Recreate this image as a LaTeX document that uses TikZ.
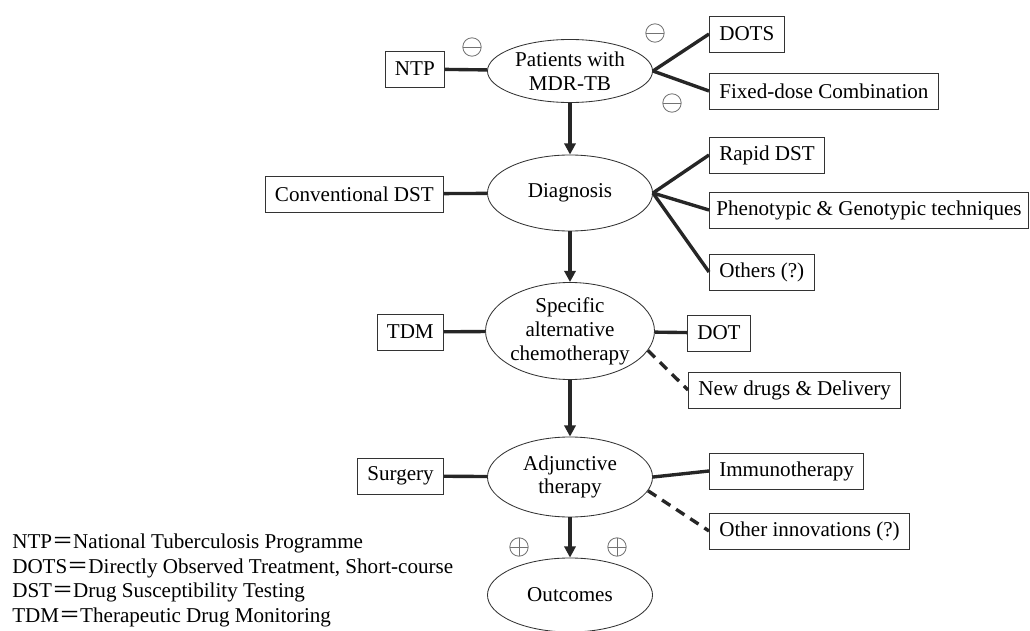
\documentclass[tikz,border=0pt]{standalone}
\usepackage{fontspec}
\setmainfont{Liberation Serif}
\newfontfamily\cjk{Noto Sans CJK JP}
\usetikzlibrary{shapes.geometric, arrows.meta, positioning}
\newcommand{\eqs}{{\cjk ＝}}

\tikzset{
  stage/.style={draw=black!80, ellipse, line width=0.6pt, inner sep=0pt, minimum width=4.125cm, align=center},
  factor/.style={draw=black!80, line width=0.6pt, minimum height=0.9cm, inner xsep=7pt},
  link/.style={line width=2.4pt, black!85},
  flow/.style={link, -{Triangle[length=8pt,width=8pt]}},
  maybe/.style={link, dash pattern=on 7pt off 5pt},
  sign/.style={circle, draw=black!55, line width=0.6pt, minimum size=0.46cm, inner sep=0pt},
  minus/.style={path picture={\draw[black!55, line width=0.6pt] (path picture bounding box.west) -- (path picture bounding box.east);}},
  plus/.style={path picture={\draw[black!55, line width=0.6pt] (path picture bounding box.west) -- (path picture bounding box.east) (path picture bounding box.north) -- (path picture bounding box.south);}}
}

\begin{document}
\begin{tikzpicture}[x=0.025cm, y=-0.025cm, font=\fontsize{15}{17}\selectfont]
\useasboundingbox (0,0) rectangle (1030,630);

\node[stage, minimum height=1.575cm] (patients) at (570,71) {Patients with\\MDR-TB};
\node[stage, minimum height=1.9cm] (diagnosis) at (570,193) {Diagnosis};
\node[stage, minimum height=2.425cm] (chemo) at (570,331) {Specific\\alternative\\chemotherapy};
\node[stage, minimum height=2cm] (adjunct) at (570,477) {Adjunctive\\therapy};
\node[stage, minimum height=1.85cm] (outcomes) at (570,595) {Outcomes};

\node[factor, anchor=east] (ntp) at (445,69) {NTP};
\node[factor, anchor=west] (dots) at (709,34) {DOTS};
\node[factor, anchor=west] (fdc) at (709,91) {Fixed-dose Combination};
\node[factor, anchor=east] (convdst) at (444,194) {Conventional DST};
\node[factor, anchor=west] (rapid) at (709,155) {Rapid DST};
\node[factor, anchor=west, inner xsep=5pt] (pheno) at (709,210) {Phenotypic \& Genotypic techniques};
\node[factor, anchor=west] (others) at (709,272) {Others (?)};
\node[factor, anchor=east] (tdm) at (444,332) {TDM};
\node[factor, anchor=west] (dot) at (687,333) {DOT};
\node[factor, anchor=west] (newdrugs) at (688,390) {New drugs \& Delivery};
\node[factor, anchor=east] (surgery) at (444,476) {Surgery};
\node[factor, anchor=west] (immuno) at (709,471) {Immunotherapy};
\node[factor, anchor=west] (innov) at (709,531) {Other innovations (?)};

% links and flow
\draw[link] (ntp) -- (patients);
\draw[link] (patients.east) -- (dots.west);
\draw[link] (patients.east) -- (fdc.west);
\draw[flow] (patients) -- (diagnosis);
\draw[link] (convdst) -- (diagnosis);
\draw[link] (diagnosis.east) -- (rapid.west);
\draw[link] (diagnosis.east) -- (pheno.west);
\draw[link] (diagnosis.east) -- (others.west);
\draw[flow] (diagnosis) -- (chemo);
\draw[link] (tdm) -- (chemo);
\draw[link] (chemo) -- (dot);
\draw[maybe] (chemo.-14) -- (newdrugs.west);
\draw[flow] (chemo) -- (adjunct);
\draw[link] (surgery) -- (adjunct);
\draw[link] (adjunct.east) -- (immuno.west);
\draw[maybe] (adjunct.-10) -- (innov.west);
\draw[flow] (adjunct) -- (outcomes);

\node[sign, minus] (ntp sign) at (472,47) {};
\node[sign, minus] (dots sign) at (655,33) {};
\node[sign, minus] (fdc sign) at (672,103) {};
\node[sign, plus] (left plus) at (519,547) {};
\node[sign, plus] (right plus) at (617,547) {};

% abbreviations
\node[anchor=base west, inner sep=0pt] (key ntp) at (12,548) {NTP\eqs National Tuberculosis Programme};
\node[anchor=base west, inner sep=0pt] (key dots) at (12,573) {DOTS\eqs Directly Observed Treatment, Short-course};
\node[anchor=base west, inner sep=0pt] (key dst) at (12,597) {DST\eqs Drug Susceptibility Testing};
\node[anchor=base west, inner sep=0pt] (key tdm) at (12,622) {TDM\eqs Therapeutic Drug Monitoring};
\end{tikzpicture}
\end{document}
